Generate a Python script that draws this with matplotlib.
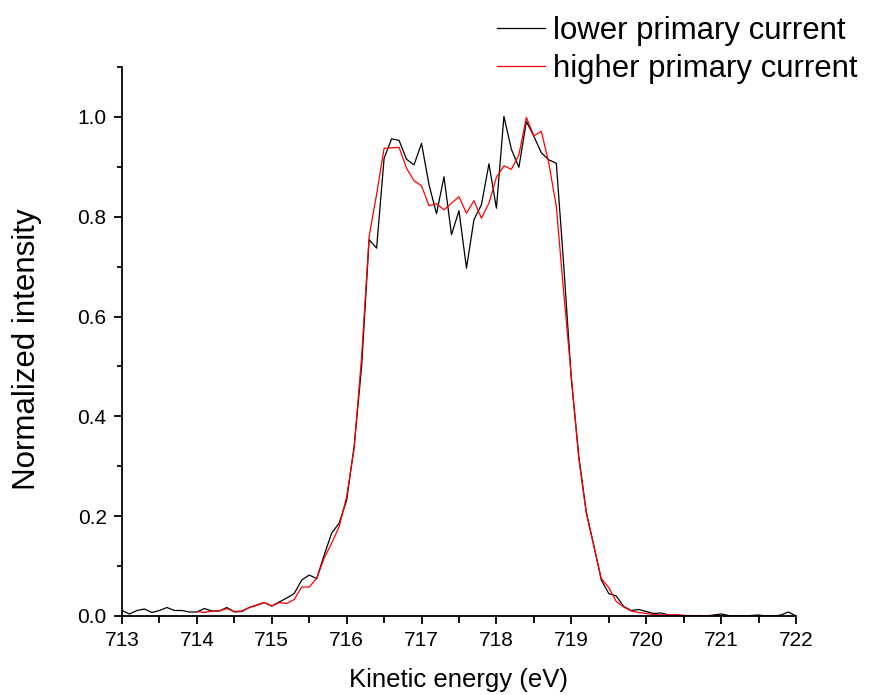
import numpy as np
import matplotlib
matplotlib.use("Agg")
import matplotlib.pyplot as plt
from matplotlib.ticker import MultipleLocator

plt.rcParams['font.family'] = ['Liberation Sans', 'DejaVu Sans']

# Kinetic energy grid (eV)
energy_low = [713.0 + 0.1 * i for i in range(91)]     # 713.0 .. 722.0
energy_high = [714.0 + 0.1 * i for i in range(71)]    # 714.0 .. 721.0

lower_current = [
    0.011, 0.004, 0.011, 0.014, 0.007, 0.011, 0.017, 0.011, 0.011, 0.008,
    0.008, 0.015, 0.010, 0.010, 0.017, 0.008, 0.009, 0.017, 0.022, 0.027,
    0.020, 0.028, 0.036, 0.045, 0.072, 0.082, 0.075, 0.122, 0.166, 0.186,
    0.232, 0.340, 0.500, 0.754, 0.737, 0.917, 0.956, 0.953, 0.915, 0.904,
    0.947, 0.864, 0.806, 0.880, 0.764, 0.812, 0.697, 0.794, 0.824, 0.906,
    0.817, 1.001, 0.935, 0.899, 0.991, 0.961, 0.928, 0.914, 0.907, 0.700,
    0.475, 0.320, 0.208, 0.142, 0.072, 0.045, 0.040, 0.019, 0.011, 0.013,
    0.009, 0.005, 0.006, 0.002, 0.001, 0.001, 0.000, 0.001, 0.000, 0.002,
    0.004, 0.001, 0.000, 0.000, 0.001, 0.002, 0.000, 0.000, 0.002, 0.008,
    0.000,
]

higher_current = [
    0.009, 0.007, 0.010, 0.010, 0.015, 0.009, 0.010, 0.017, 0.021, 0.027,
    0.020, 0.027, 0.025, 0.033, 0.058, 0.058, 0.075, 0.116, 0.146, 0.179,
    0.239, 0.336, 0.520, 0.760, 0.845, 0.937, 0.938, 0.939, 0.897, 0.872,
    0.862, 0.822, 0.826, 0.814, 0.827, 0.840, 0.807, 0.832, 0.797, 0.827,
    0.879, 0.902, 0.895, 0.924, 0.999, 0.962, 0.971, 0.907, 0.820, 0.645,
    0.480, 0.315, 0.206, 0.140, 0.075, 0.057, 0.029, 0.018, 0.010, 0.007,
    0.005, 0.003, 0.002, 0.002, 0.003, 0.001, 0.001, 0.000, 0.000, 0.000,
    0.001,
]

labels = ["lower primary current", "higher primary current"]
x_ticks = [713, 714, 715, 716, 717, 718, 719, 720, 721, 722]
y_ticks = [0.0, 0.2, 0.4, 0.6, 0.8, 1.0]

fig = plt.figure(figsize=(8.75, 6.95), dpi=100)
ax = fig.add_axes([0.1394, 0.1137, 0.7703, 0.7899])

ax.plot(energy_low, lower_current, color='black', lw=0.9, label=labels[0])
ax.plot(energy_high, higher_current, color='#ff0000', lw=0.9, label=labels[1])

ax.set_xlim(713, 722)
ax.set_ylim(0, 1.1)
ax.set_xticks(x_ticks)
ax.set_xticklabels([str(t) for t in x_ticks])
ax.set_yticks(y_ticks)
ax.set_yticklabels([f"{t:.1f}" for t in y_ticks])
ax.xaxis.set_minor_locator(MultipleLocator(0.5))
ax.yaxis.set_minor_locator(MultipleLocator(0.1))

for s in ['top', 'right']:
    ax.spines[s].set_visible(False)
for s in ['left', 'bottom']:
    ax.spines[s].set_linewidth(1.3)

ax.tick_params(which='major', direction='out', length=6, width=1.3, labelsize=15, pad=5)
ax.tick_params(which='minor', direction='out', length=3.5, width=1.3)
ax.tick_params(axis='x', which='minor', length=5)

ax.set_xlabel("Kinetic energy (eV)", fontsize=18.5)
ax.set_ylabel("Normalized intensity", fontsize=22.5)
ax.xaxis.set_label_coords(0.5, -0.095)
ax.yaxis.set_label_coords(-0.119, 0.486)

leg = fig.legend(loc='upper right', bbox_to_anchor=(0.991, 0.99), frameon=False,
                 fontsize=22.4, handlelength=1.55, handletextpad=0.26,
                 labelspacing=0.25, borderaxespad=0.0, borderpad=0.3)
for line in leg.get_lines():
    line.set_linewidth(0.9)

fig.savefig("out.png", dpi=100)
